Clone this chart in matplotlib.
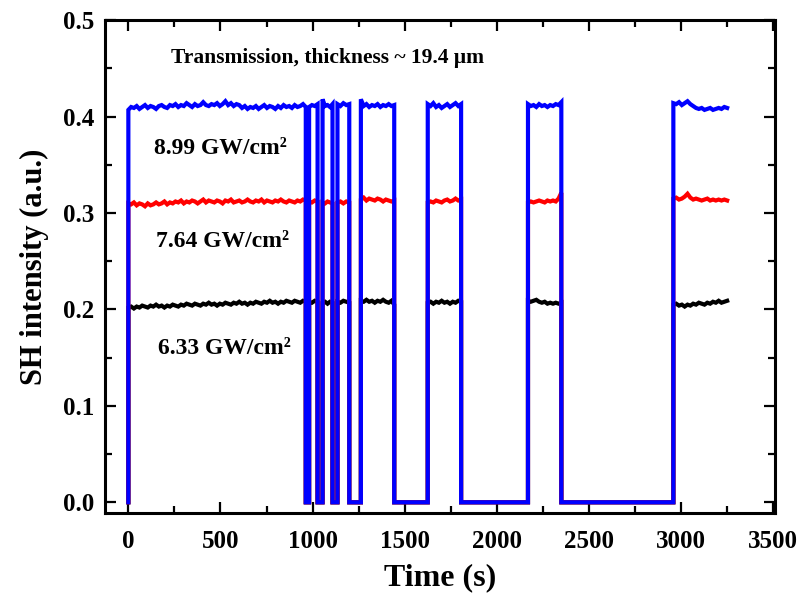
import numpy as np
import matplotlib
matplotlib.use("Agg")
import matplotlib.pyplot as plt
from matplotlib.ticker import MultipleLocator, FormatStrFormatter

plt.rcParams['font.family'] = ['Liberation Serif', 'DejaVu Serif']
plt.rcParams['font.weight'] = 'bold'

# On-intervals (s) of the laser; signal is zero between them
seg_bounds = [(0, 963), (981, 1027), (1054, 1108), (1135, 1199),
              (1262, 1443), (1625, 1806), (2169, 2350), (2958, 3250)]

blue_vals = [
    [0.407,0.410,0.409,0.411,0.408,0.410,0.412,0.409,0.411,0.410,
     0.408,0.411,0.412,0.410,0.409,0.412,0.411,0.413,0.410,0.412,
     0.411,0.414,0.412,0.410,0.413,0.411,0.412,0.415,0.412,0.411,
     0.413,0.412,0.414,0.411,0.413,0.416,0.412,0.414,0.411,0.413,
     0.412,0.409,0.411,0.408,0.410,0.409,0.411,0.408,0.410,0.412,
     0.409,0.411,0.410,0.408,0.411,0.409,0.412,0.410,0.411,0.409,
     0.412,0.410,0.411,0.413,0.410],
    [0.410,0.412,0.411,0.413],
    [0.418,0.411,0.412,0.410,0.413],
    [0.413,0.411,0.414,0.412,0.413],
    [0.418,0.411,0.413,0.410,0.412,0.411,0.413,0.410,0.412,0.411,0.413,0.411,0.412],
    [0.413,0.411,0.414,0.410,0.412,0.409,0.411,0.413,0.410,0.412,0.414,0.411,0.413],
    [0.413,0.411,0.412,0.410,0.413,0.411,0.412,0.410,0.412,0.411,0.413,0.412,0.415],
    [0.414,0.413,0.415,0.412,0.414,0.416,0.413,0.411,0.409,0.408,
     0.409,0.407,0.408,0.409,0.407,0.408,0.409,0.408,0.410,0.409],
]

red_vals = [
    [0.310,0.309,0.311,0.308,0.310,0.309,0.307,0.310,0.308,0.309,
     0.311,0.309,0.310,0.312,0.309,0.311,0.310,0.312,0.311,0.313,
     0.310,0.312,0.311,0.313,0.312,0.310,0.312,0.314,0.311,0.313,
     0.312,0.311,0.313,0.312,0.310,0.313,0.312,0.314,0.311,0.312,
     0.313,0.311,0.312,0.314,0.312,0.311,0.313,0.312,0.314,0.311,
     0.313,0.312,0.311,0.313,0.312,0.314,0.312,0.311,0.313,0.312,
     0.311,0.313,0.312,0.314,0.313],
    [0.312,0.311,0.313,0.312],
    [0.311,0.310,0.312,0.311,0.310],
    [0.311,0.312,0.310,0.312,0.311],
    [0.314,0.316,0.313,0.315,0.314,0.313,0.315,0.314,0.312,0.314,0.313,0.312,0.313],
    [0.311,0.312,0.311,0.313,0.312,0.311,0.313,0.314,0.312,0.313,0.315,0.313,0.314],
    [0.311,0.312,0.311,0.312,0.313,0.312,0.311,0.313,0.312,0.313,0.312,0.315,0.321],
    [0.315,0.316,0.314,0.315,0.317,0.320,0.316,0.314,0.315,0.314,
     0.313,0.314,0.315,0.313,0.314,0.313,0.314,0.313,0.314,0.313],
]

black_vals = [
    [0.202,0.203,0.201,0.203,0.202,0.204,0.203,0.202,0.204,0.203,
     0.205,0.203,0.204,0.202,0.204,0.203,0.205,0.204,0.203,0.205,
     0.204,0.206,0.205,0.204,0.206,0.205,0.204,0.206,0.205,0.207,
     0.205,0.206,0.204,0.206,0.205,0.207,0.206,0.205,0.207,0.206,
     0.208,0.206,0.207,0.205,0.207,0.206,0.208,0.207,0.206,0.208,
     0.207,0.209,0.207,0.208,0.206,0.208,0.207,0.209,0.208,0.207,
     0.209,0.208,0.207,0.209,0.208],
    [0.208,0.207,0.209,0.208],
    [0.207,0.208,0.206,0.208,0.207],
    [0.208,0.207,0.209,0.208,0.207],
    [0.209,0.208,0.210,0.208,0.209,0.207,0.209,0.208,0.210,0.208,0.207,0.209,0.205],
    [0.207,0.208,0.206,0.208,0.207,0.209,0.207,0.208,0.206,0.208,0.207,0.209,0.208],
    [0.209,0.208,0.209,0.210,0.208,0.207,0.208,0.206,0.207,0.206,0.207,0.206,0.207],
    [0.205,0.206,0.204,0.205,0.203,0.205,0.204,0.206,0.205,0.207,
     0.206,0.205,0.207,0.206,0.208,0.207,0.209,0.207,0.208,0.209],
]

labels = ["6.33 GW/cm\u00b2", "7.64 GW/cm\u00b2", "8.99 GW/cm\u00b2"]
label_pos = [(160, 0.159), (150, 0.270), (140, 0.367)]
title_text = "Transmission, thickness ~ 19.4 \u03bcm"


def build_trace(bounds, vals):
    xs, ys = [], []
    n = len(bounds)
    for i, ((t0, t1), v) in enumerate(zip(bounds, vals)):
        t = np.linspace(t0, t1, len(v))
        xs.append(t0); ys.append(0.0)
        xs.extend(t); ys.extend(v)
        if i < n - 1:
            xs.append(t1); ys.append(0.0)
    return np.array(xs), np.array(ys)


fig = plt.figure(figsize=(8.04, 5.95), dpi=100)
ax = fig.add_axes([0.131, 0.138, 0.833, 0.828])

for vals, col in [(black_vals, 'black'), (red_vals, '#ff0000'), (blue_vals, '#0000ff')]:
    x, y = build_trace(seg_bounds, vals)
    ax.plot(x, y, color=col, lw=3.0, solid_joinstyle='miter')

ax.set_xlim(-125, 3510)
ax.set_ylim(-0.011, 0.5)
ax.xaxis.set_major_locator(MultipleLocator(500))
ax.xaxis.set_minor_locator(MultipleLocator(250))
ax.yaxis.set_major_locator(MultipleLocator(0.1))
ax.yaxis.set_minor_locator(MultipleLocator(0.05))
ax.yaxis.set_major_formatter(FormatStrFormatter('%.1f'))
ax.tick_params(which='both', direction='in', top=True, right=True, width=1.6)
ax.tick_params(which='major', length=8, labelsize=18)
ax.tick_params(axis='x', which='major', pad=12)
ax.tick_params(axis='y', which='major', pad=8)
ax.tick_params(which='minor', length=5)
for lab in ax.get_xticklabels() + ax.get_yticklabels():
    lab.set_fontweight('bold')
for s in ax.spines.values():
    s.set_linewidth(2.2)

ax.set_xlabel("Time (s)", fontsize=23, fontweight='bold', labelpad=8)
ax.set_ylabel("SH intensity (a.u.)", fontsize=22, fontweight='bold', labelpad=10)

ax.text(230, 0.461, title_text, fontsize=15.5, fontweight='bold', va='center', ha='left')
for (px, py), lab in zip(label_pos, labels):
    ax.text(px, py, lab, fontsize=17, fontweight='bold', va='center', ha='left')

fig.savefig("out.png", dpi=100)
